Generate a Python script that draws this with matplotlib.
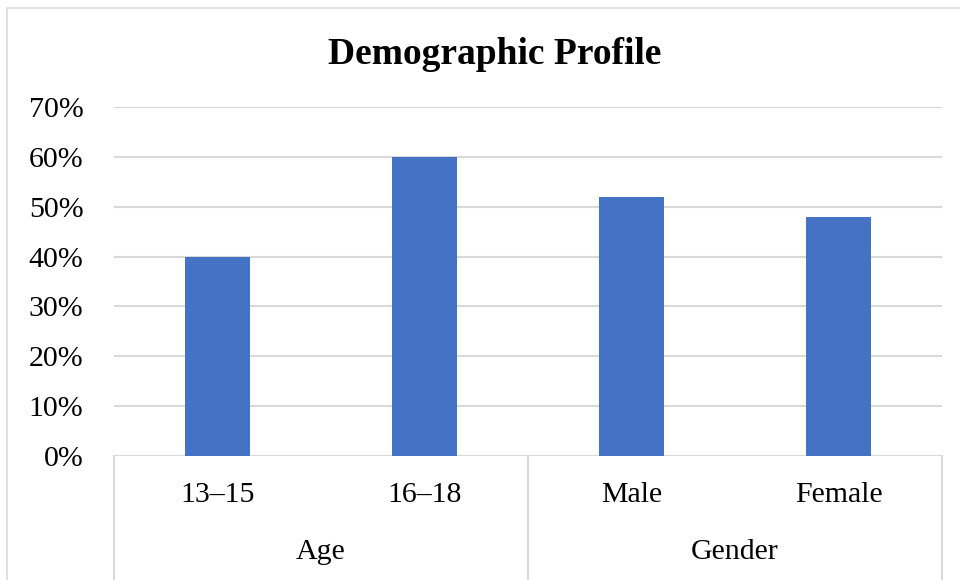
import matplotlib
matplotlib.use("Agg")
import matplotlib.pyplot as plt
from matplotlib.ticker import PercentFormatter
from matplotlib.patches import Rectangle

title = "Demographic Profile"
categories = ["13–15", "16–18", "Male", "Female"]
values = [0.40, 0.60, 0.52, 0.48]
groups = ["Age", "Gender"]
group_sizes = [2, 2]
yticks = [0, 0.1, 0.2, 0.3, 0.4, 0.5, 0.6, 0.7]

plt.rcParams['font.family'] = ['Liberation Serif', 'DejaVu Serif']

W, H = 960, 580
fig = plt.figure(figsize=(9.6, 5.8), dpi=100)
grid_c = "#d9d9d9"

# chart area border (cropped on right/bottom)
fig.patches.append(Rectangle((7 / W, -0.1), 1.2, 1 - 8 / H + 0.1,
                             transform=fig.transFigure, fill=False,
                             edgecolor=grid_c, linewidth=1.2))

ax = fig.add_axes([114 / W, 1 - 456 / H, (942 - 114) / W, (456 - 107) / H])
x = list(range(len(categories)))
ax.bar(x, values, width=0.314, color="#4472C4", zorder=3)
ax.set_xlim(-0.5, len(categories) - 0.5)
ax.set_ylim(0, 0.7)
ax.set_yticks(yticks)
ax.yaxis.set_major_formatter(PercentFormatter(1.0, decimals=0))
ax.yaxis.grid(True, color=grid_c, linewidth=1.5, zorder=0)
ax.set_axisbelow(True)
for s in ax.spines.values():
    s.set_visible(False)
ax.tick_params(axis='y', length=0, pad=22, labelsize=21.5, colors="black")
ax.set_xticks(x)
ax.set_xticklabels(categories)
ax.tick_params(axis='x', length=0, pad=19, labelsize=21.5, colors="black")

trans = ax.get_xaxis_transform()
axh = 456 - 107
start = -0.5
bounds = [start]
for g, n in zip(groups, group_sizes):
    center = start + n / 2
    ax.text(center, (456 - 552) / axh, g, transform=trans, ha='center',
            va='center', fontsize=21.5, color="black")
    start += n
    bounds.append(start)
for b in bounds:
    ax.plot([b, b], [0, (456 - 600) / axh], transform=trans, color=grid_c,
            linewidth=1.5, clip_on=False, zorder=1)

fig.text(495 / W, 1 - 63.5 / H, title, ha='center', va='baseline',
         fontsize=27, fontweight='bold', color="black")

fig.savefig("out.png", dpi=100)
